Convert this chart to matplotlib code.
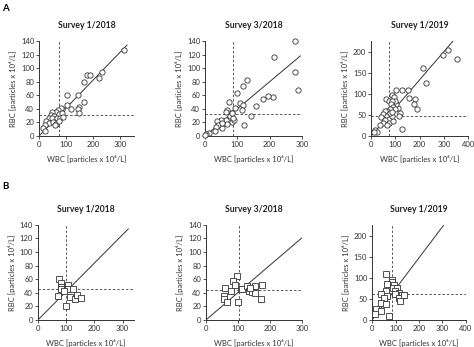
import matplotlib
matplotlib.use('Agg')
import matplotlib.pyplot as plt
import numpy as np

plt.rcParams['font.family'] = ['Lato', 'DejaVu Sans']
plt.rcParams['font.size'] = 5.5

# ---- panel A (circles) ----
a1_x = [314, 232, 220, 178, 190, 165, 165, 143, 146, 143, 149, 105, 118, 104, 85, 81, 69, 63, 48,
        44, 57, 73, 85, 36, 48, 67, 78, 26, 38, 51, 63, 75, 23, 16, 23, 60, 88]
a1_y = [126, 95, 86, 90, 90, 80, 50, 61, 43, 40, 34, 60, 40, 45, 40, 42, 39, 36, 36,
        31, 30, 32, 34, 27, 27, 27, 27, 22, 19, 21, 18, 22, 16, 12, 8, 16, 28]
a1_fit_x = [0, 325]
a1_fit_y = [0, 134]
a1_vline, a1_hline = 75, 31

a2_x = [277, 277, 289, 214, 210, 194, 179, 158, 142, 130, 117, 99, 73, 107, 116, 115, 120, 93, 84,
        84, 91, 68, 66, 78, 86, 84, 65, 68, 51, 37, 53, 40, 34, 30, 12, 4, 0, 53]
a2_y = [140, 95, 68, 117, 57, 59, 54, 44, 30, 83, 74, 63, 50, 49, 45, 39, 16, 41, 34,
        21, 23, 38, 35, 30, 27, 34, 24, 17, 24, 22, 12, 16, 13, 8, 4, 3, 1, 19]
a2_fit_x = [0, 295]
a2_fit_y = [0, 118]
a2_vline, a2_hline = 86, 32

a3_x = [319, 297, 356, 214, 225, 128, 154, 102, 157, 179, 177, 188, 129, 120, 115, 109, 104, 63, 72,
        88, 95, 99, 85, 81, 91, 99, 77, 67, 58, 49, 40, 67, 74, 58, 47, 36, 74, 67, 91, 88,
        16, 26, 12, 77, 85]
a3_y = [203, 192, 183, 162, 126, 108, 108, 108, 90, 88, 75, 64, 17, 55, 47, 67, 75, 87, 83,
        98, 92, 84, 83, 75, 69, 63, 65, 59, 60, 51, 44, 47, 41, 39, 31, 25, 31, 25, 35, 47,
        15, 10, 10, 55, 57]
a3_fit_x = [0, 338]
a3_fit_y = [0, 225]
a3_vline, a3_hline = 74, 48

# ---- panel B (squares) ----
b1_x = [76, 80, 81, 80, 108, 106, 124, 71, 112, 132, 139, 153, 100, 94]
b1_y = [60, 54, 49, 45, 51, 45, 46, 35, 34, 31, 37, 33, 20, 42]
b1_fit_x = [0, 320]
b1_fit_y = [0, 134]
b1_vline, b1_hline = 101, 46

b2_x = [96, 85, 92, 59, 77, 57, 55, 67, 101, 108, 111, 127, 135, 143, 153, 153, 174, 172, 137]
b2_y = [64, 58, 52, 47, 42, 35, 31, 26, 27, 45, 46, 50, 43, 41, 40, 50, 51, 31, 47]
b2_fit_x = [0, 300]
b2_fit_y = [0, 121]
b2_vline, b2_hline = 104, 44

b3_x = [58, 84, 84, 65, 94, 87, 108, 98, 115, 115, 98, 126, 115, 136, 118, 58, 37, 65, 51, 37,
        58, 18, 37, 13, 72]
b3_y = [108, 96, 89, 85, 83, 77, 77, 69, 65, 59, 61, 59, 53, 59, 45, 69, 61, 57, 51, 41,
        37, 25, 21, 13, 10]
b3_fit_x = [0, 306]
b3_fit_y = [0, 226]
b3_vline, b3_hline = 85, 62

title_list = ['Survey 1/2018', 'Survey 3/2018', 'Survey 1/2019']
xlabel = 'WBC [particles x 10\u2076/L]'
ylabel = 'RBC [particles x 10\u2076/L]'

LINE = '#333333'
DASH = '#555555'

fig = plt.figure(figsize=(4.74, 3.47), dpi=100)


def panel(rect, x, y, fx, fy, vl, hl, marker, xlim, ylim, xticks, yticks, title):
    ax = fig.add_axes(rect)
    ax.plot(x, y, linestyle='none', marker=marker, ms=3.8 if marker == 'o' else 4.2,
            mfc='white', mec='#333333', mew=0.6, zorder=3, clip_on=False)
    ax.plot(fx, fy, color=LINE, lw=0.7, zorder=2)
    ax.axvline(vl, color=DASH, lw=0.7, dashes=(2.5, 2), zorder=1)
    ax.axhline(hl, color=DASH, lw=0.7, dashes=(2.5, 2), zorder=1)
    ax.set_xlim(xlim)
    ax.set_ylim(ylim)
    ax.set_xticks(xticks)
    ax.set_yticks(yticks)
    for s in ['top', 'right']:
        ax.spines[s].set_visible(False)
    for s in ['left', 'bottom']:
        ax.spines[s].set_linewidth(0.7)
        ax.spines[s].set_color('#333333')
    ax.tick_params(length=2, width=0.6, pad=1.5, labelsize=5.5, colors='#333333')
    ax.set_xlabel(xlabel, fontsize=5.5, labelpad=5, color='#333333')
    ax.set_ylabel(ylabel, fontsize=5.5, labelpad=3, color='#333333')
    ax.set_title(title, fontsize=6.2, fontweight='bold', pad=9, color='#222222')
    return ax


h = 0.274
ya, yb = 0.608, 0.078
t140 = [0, 20, 40, 60, 80, 100, 120, 140]
t200 = [0, 50, 100, 150, 200]

panel([0.0823, ya, 0.200, h], a1_x, a1_y, a1_fit_x, a1_fit_y, a1_vline, a1_hline, 'o',
      (0, 350), (0, 140), [0, 100, 200, 300], t140, title_list[0])
panel([0.4325, ya, 0.2046, h], a2_x, a2_y, a2_fit_x, a2_fit_y, a2_vline, a2_hline, 'o',
      (0, 300), (0, 140), [0, 100, 200, 300], t140, title_list[1])
panel([0.783, ya, 0.2046, h], a3_x, a3_y, a3_fit_x, a3_fit_y, a3_vline, a3_hline, 'o',
      (0, 400), (0, 225), [0, 100, 200, 300, 400], t200, title_list[2])

panel([0.080, yb, 0.2025, h], b1_x, b1_y, b1_fit_x, b1_fit_y, b1_vline, b1_hline, 's',
      (0, 340), (0, 140), [0, 100, 200, 300], t140, title_list[0])
panel([0.4346, yb, 0.2025, h], b2_x, b2_y, b2_fit_x, b2_fit_y, b2_vline, b2_hline, 's',
      (0, 300), (0, 140), [0, 100, 200, 300], t140, title_list[1])
panel([0.785, yb, 0.198, h], b3_x, b3_y, b3_fit_x, b3_fit_y, b3_vline, b3_hline, 's',
      (0, 400), (0, 226), [0, 100, 200, 300, 400], t200, title_list[2])

fig.text(0.004, 0.975, 'A', fontsize=7, fontweight='bold', va='center')
fig.text(0.004, 0.462, 'B', fontsize=7, fontweight='bold', va='center')

fig.savefig('out.png', dpi=100)
